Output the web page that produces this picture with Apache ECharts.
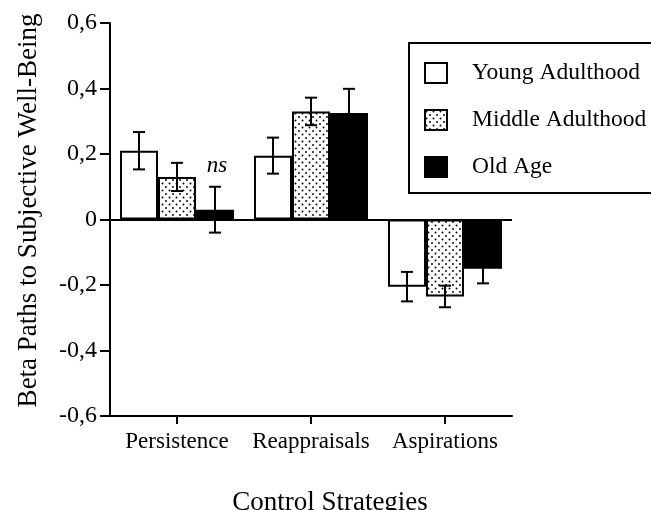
<!DOCTYPE html>
<html>
<head>
<meta charset="utf-8">
<script src="https://cdn.jsdelivr.net/npm/echarts@6/dist/echarts.min.js"></script>
<style>
html,body{margin:0;padding:0;background:#fff;}
#chart{width:651px;height:510px;}
</style>
</head>
<body>
<div id="chart"></div>
<script>
// ---- data ----
const categories = ['Persistence', 'Reappraisals', 'Aspirations'];
const groups = ['Young Adulthood', 'Middle Adulthood', 'Old Age'];
const youngValues = [0.21, 0.195, -0.205];
const middleValues = [0.13, 0.33, -0.235];
const oldValues = [0.03, 0.325, -0.15];
const youngErrors = [0.057, 0.055, 0.045];
const middleErrors = [0.043, 0.042, 0.033];
const oldErrors = [0.07, 0.074, 0.045];
const oldNotes = ['ns', '', ''];
const yTickValues = [-0.6, -0.4, -0.2, 0, 0.2, 0.4, 0.6];
const yTickLabels = ['-0,6', '-0,4', '-0,2', '0', '0,2', '0,4', '0,6'];
const xAxisName = 'Control Strategies';
const yAxisName = 'Beta Paths to Subjective Well-Being';

// ---- style ----
const FONT = '"Liberation Serif", "Times New Roman", serif';
const BAR_W = 38;

const pc = document.createElement('canvas');
pc.width = 7; pc.height = 7;
const pctx = pc.getContext('2d');
pctx.fillStyle = '#fff';
pctx.fillRect(0, 0, 7, 7);
pctx.fillStyle = '#000';
pctx.beginPath(); pctx.arc(1.5, 1.5, 0.95, 0, Math.PI * 2); pctx.fill();
pctx.beginPath(); pctx.arc(5, 5, 0.95, 0, Math.PI * 2); pctx.fill();
const dotted = { image: pc, repeat: 'repeat' };

const fills = ['#ffffff', dotted, '#000000'];
const valueSets = [youngValues, middleValues, oldValues];
const errorSets = [youngErrors, middleErrors, oldErrors];
const noteSets = [null, null, oldNotes];

function barSeries(idx) {
  const s = {
    type: 'bar',
    name: groups[idx],
    data: valueSets[idx],
    barWidth: BAR_W,
    barGap: '0%',
    itemStyle: { color: fills[idx], borderColor: '#000', borderWidth: 2 },
    silent: true,
    z: 2
  };
  if (idx === 0) {
    s.markLine = {
      silent: true,
      symbol: ['none', 'none'],
      label: { show: false },
      lineStyle: { color: '#000', width: 2, type: 'solid' },
      data: [{ yAxis: 0 }]
    };
  }
  return s;
}

function errorSeries(idx) {
  const values = valueSets[idx], errors = errorSets[idx], notes = noteSets[idx];
  return {
    type: 'custom',
    name: groups[idx] + ' error',
    silent: true,
    z: 10,
    data: values.map((v, i) => [i, v, errors[i]]),
    encode: { x: 0, y: 1 },
    renderItem: function (params, api) {
      const i = api.value(0), v = api.value(1), e = api.value(2);
      const off = (idx - 1) * BAR_W;
      const top = api.coord([i, v + e]);
      const bot = api.coord([i, v - e]);
      const x = top[0] + off;
      const cap = 6;
      const st = { stroke: '#000', lineWidth: 2 };
      const children = [
        { type: 'line', shape: { x1: x, y1: top[1], x2: x, y2: bot[1] }, style: st },
        { type: 'line', shape: { x1: x - cap, y1: top[1], x2: x + cap, y2: top[1] }, style: st },
        { type: 'line', shape: { x1: x - cap, y1: bot[1], x2: x + cap, y2: bot[1] }, style: st }
      ];
      const note = notes ? notes[params.dataIndex] : '';
      if (note) {
        children.push({
          type: 'text',
          x: x + 2,
          y: top[1] - 9,
          style: {
            text: note,
            fill: '#000',
            font: 'italic 23px ' + FONT,
            textAlign: 'center',
            textVerticalAlign: 'bottom'
          }
        });
      }
      return { type: 'group', children: children };
    }
  };
}

const chart = echarts.init(document.getElementById('chart'), null, { renderer: 'canvas' });
chart.setOption({
  animation: false,
  backgroundColor: '#fff',
  textStyle: { fontFamily: FONT, color: '#000' },
  grid: { left: 110, right: 139, top: 23, bottom: 94, containLabel: false, outerBoundsMode: 'none' },
  legend: {
    data: groups,
    orient: 'vertical',
    left: 409,
    top: 43,
    padding: [18, 40, 14, 15],
    itemWidth: 22,
    itemHeight: 20,
    itemGap: 23,
    borderColor: '#000',
    borderWidth: 2,
    backgroundColor: '#fff',
    icon: 'rect',
    selectedMode: false,
    itemStyle: { borderColor: '#000', borderWidth: 2 },
    textStyle: { fontFamily: FONT, fontSize: 23.5, color: '#000', padding: [0, 0, 0, 20] }
  },
  xAxis: {
    type: 'category',
    data: categories,
    boundaryGap: true,
    name: xAxisName,
    nameLocation: 'middle',
    nameGap: 73,
    nameTextStyle: { fontFamily: FONT, fontSize: 27, color: '#000', padding: [0, 0, 0, 38] },
    axisLine: { show: true, onZero: false, lineStyle: { color: '#000', width: 2 } },
    axisTick: { show: true, alignWithLabel: true, length: 8, lineStyle: { color: '#000', width: 2 } },
    axisLabel: { fontFamily: FONT, fontSize: 23, color: '#000', margin: 14, interval: 0 },
    splitLine: { show: false }
  },
  yAxis: {
    type: 'value',
    min: -0.6,
    max: 0.6,
    interval: 0.2,
    name: yAxisName,
    nameLocation: 'middle',
    nameGap: 68,
    nameTextStyle: { fontFamily: FONT, fontSize: 27, color: '#000', padding: [0, 0, 0, 18] },
    axisLine: { show: true, lineStyle: { color: '#000', width: 2 } },
    axisTick: { show: true, length: 10, lineStyle: { color: '#000', width: 2 } },
    axisLabel: {
      fontFamily: FONT, fontSize: 24, color: '#000', margin: 13,
      formatter: function (v) {
        for (let i = 0; i < yTickValues.length; i++) {
          if (Math.abs(v - yTickValues[i]) < 1e-9) return yTickLabels[i];
        }
        return '';
      }
    },
    splitLine: { show: false }
  },
  series: [barSeries(0), barSeries(1), barSeries(2), errorSeries(0), errorSeries(1), errorSeries(2)]
});
</script>
</body>
</html>
